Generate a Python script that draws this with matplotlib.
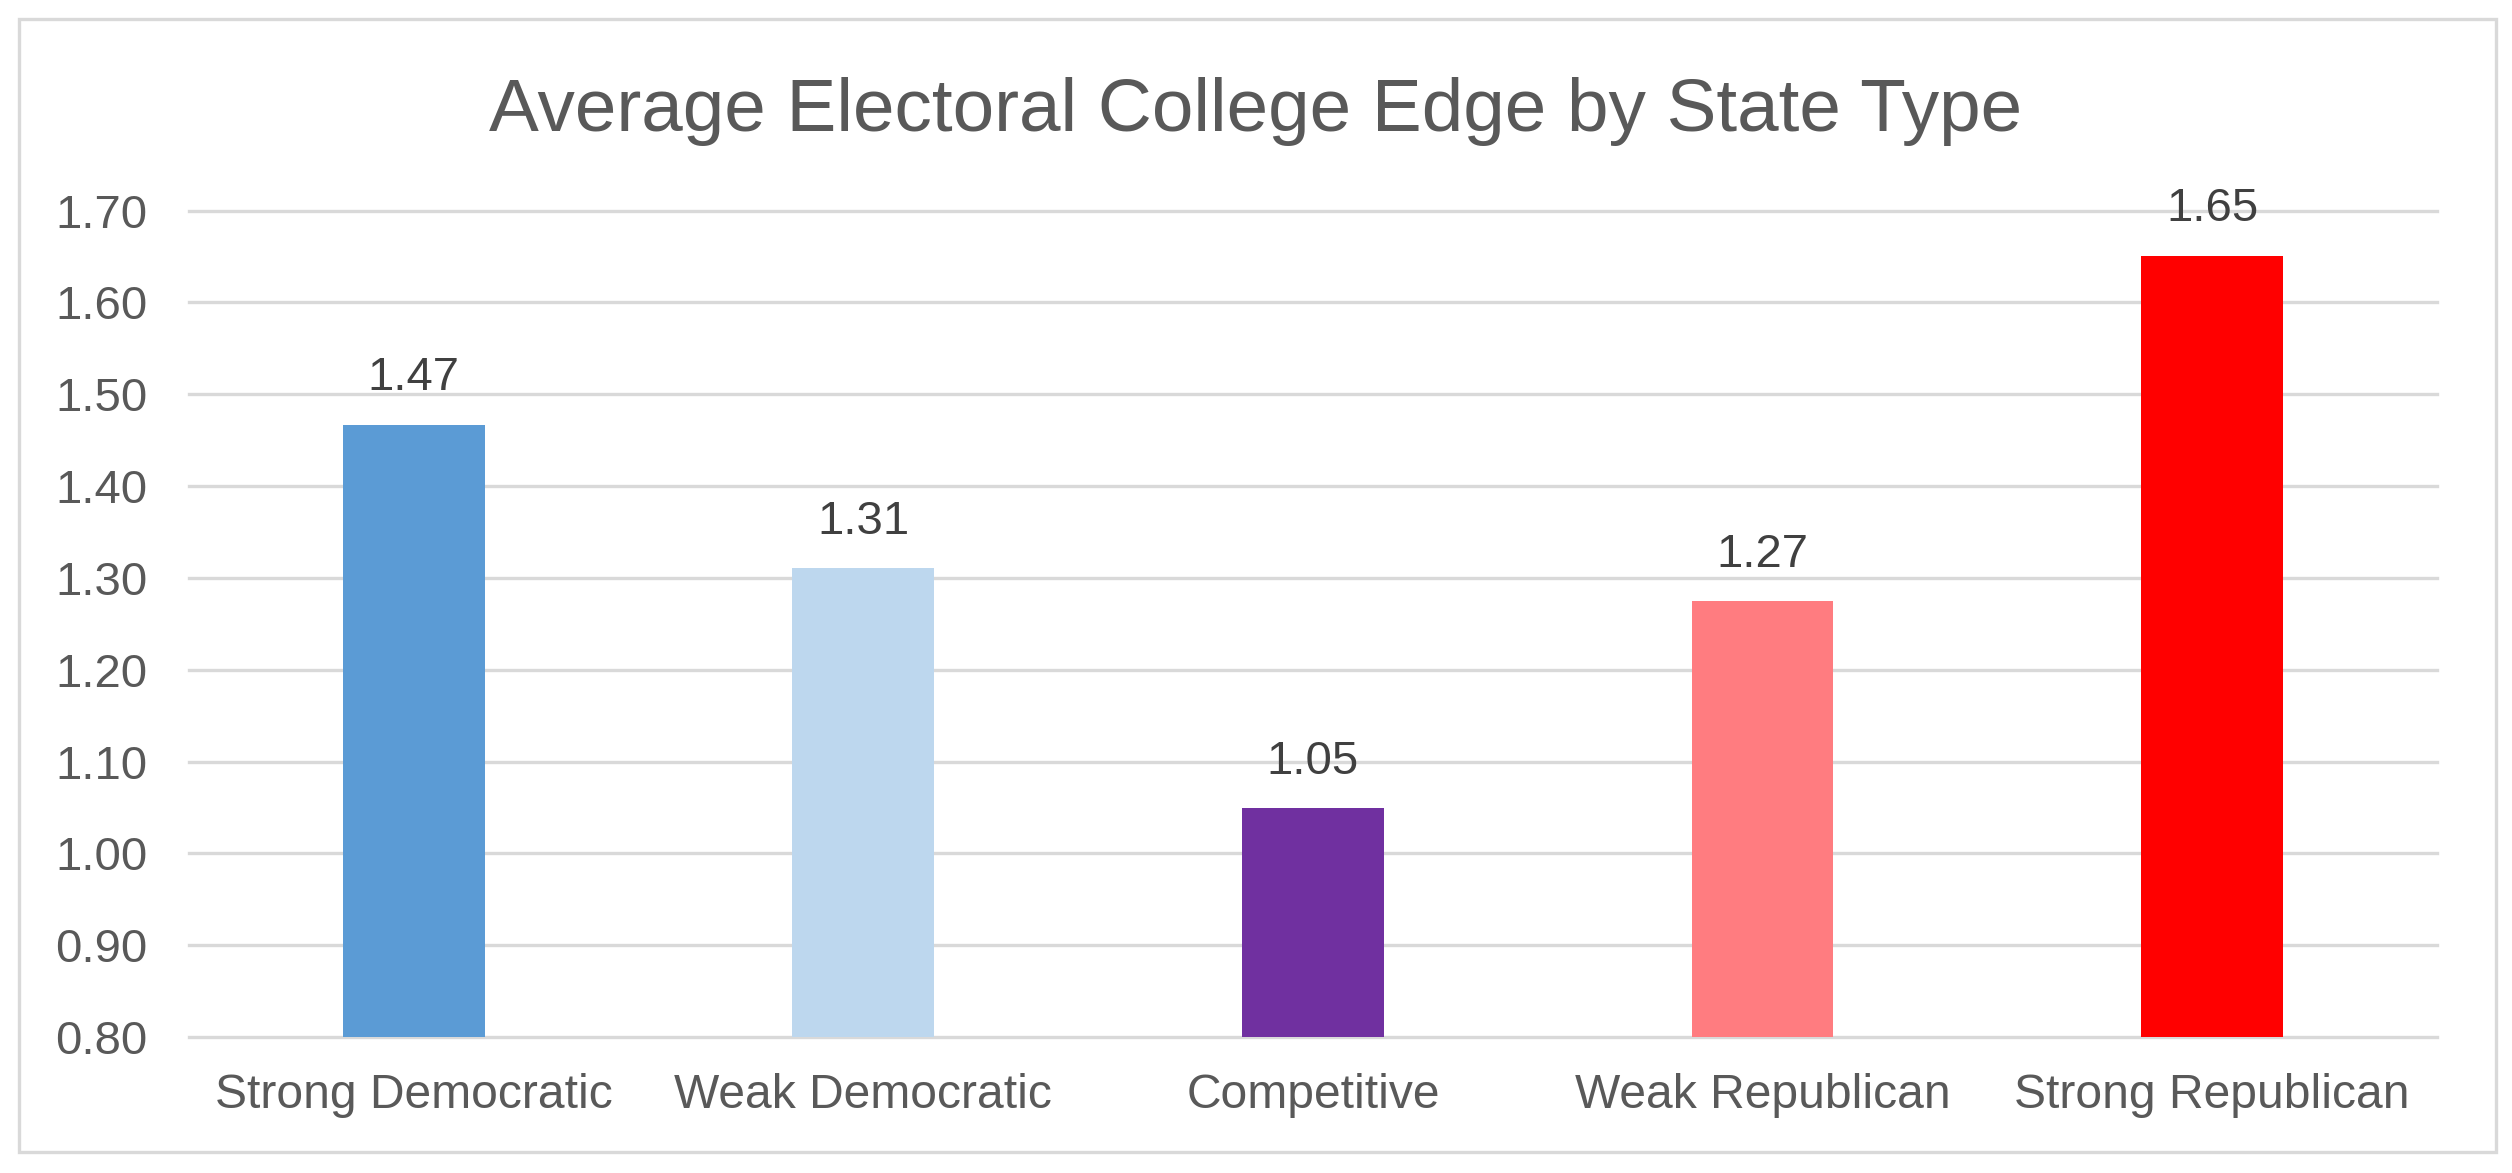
import matplotlib.pyplot as plt
from matplotlib.patches import Rectangle

# Data
categories = ['Strong Democratic', 'Weak Democratic', 'Competitive',
              'Weak Republican', 'Strong Republican']
values = [1.467, 1.311, 1.049, 1.275, 1.651]
labels = ['1.47', '1.31', '1.05', '1.27', '1.65']
colors = ['#5B9BD5', '#BDD7EE', '#7030A0', '#FF7C80', '#FF0000']
yticks = [0.80, 0.90, 1.00, 1.10, 1.20, 1.30, 1.40, 1.50, 1.60, 1.70]

plt.rcParams['font.family'] = ['Liberation Sans', 'DejaVu Sans']

fig = plt.figure(figsize=(12.56, 5.865), dpi=200)
ax = fig.add_axes([0.0752, 0.1159, 0.8949, 0.7045])

x = range(len(categories))
bars = ax.bar(x, [v - 0.8 for v in values], bottom=0.8, width=0.315,
              color=colors, linewidth=0, zorder=3)

# value labels above each bar
for i, v in enumerate(values):
    ax.annotate(labels[i], (i, v), xytext=(0, 12.3), textcoords='offset points',
                ha='center', va='baseline', fontsize=17, color='#404040',
                zorder=4)

ax.set_xlim(-0.5, len(categories) - 0.5)
ax.set_ylim(0.8, 1.7)
ax.set_yticks(yticks)
ax.set_yticklabels(['%.2f' % t for t in yticks])
ax.set_xticks(list(x))
ax.set_xticklabels(categories)
ax.tick_params(axis='y', length=0, pad=15, labelsize=17, labelcolor='#595959')
ax.tick_params(axis='x', length=0, pad=13, labelsize=17.3, labelcolor='#595959')

ax.grid(axis='y', color='#D9D9D9', linewidth=1.2, zorder=0)
for gl in ax.get_ygridlines():
    gl.set_clip_on(False)
for s in ax.spines.values():
    s.set_visible(False)

fig.text(0.5, 1 - 131 / 1173, 'Average Electoral College Edge by State Type',
         ha='center', va='baseline', fontsize=26.9, color='#595959')

# light grey frame round the whole chart
fig.patches.append(Rectangle((19 / 2512, 21 / 1173), 2477 / 2512, 1133 / 1173,
                             transform=fig.transFigure, fill=False,
                             edgecolor='#D9D9D9', linewidth=1.2))

fig.savefig('out.png', dpi=200, facecolor='white')
